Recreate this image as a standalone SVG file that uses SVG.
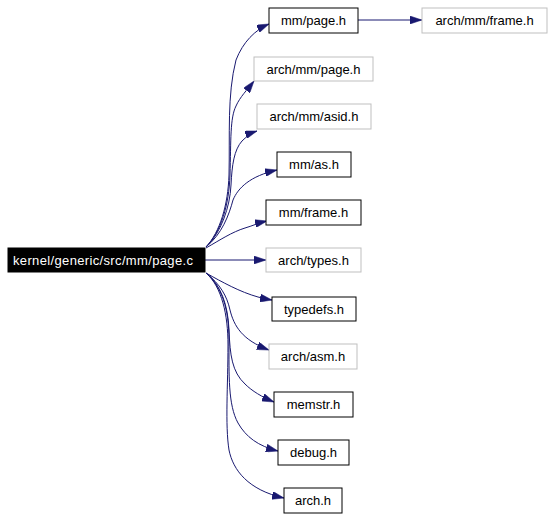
<svg xmlns="http://www.w3.org/2000/svg" width="554" height="519" viewBox="0 0 554 519">
<style>
.n rect{fill:#fff;stroke:#000;stroke-width:1}
.g rect{fill:#fff;stroke:#bfbfbf;stroke-width:1}
text{font-family:"Liberation Sans",Arial,sans-serif;font-size:13px;fill:#000;text-anchor:middle}
#edges path{fill:none;stroke:#191970;stroke-width:1;marker-end:url(#arr)}
</style>
<defs>
<marker id="arr" markerWidth="12" markerHeight="8" refX="12" refY="4" orient="auto" markerUnits="userSpaceOnUse">
<path d="M0,0 L12,4 L0,8 z" fill="#191970" stroke="#191970" stroke-width="0.5"/>
</marker>
</defs>
<rect width="554" height="519" fill="#fff"/>
<g id="edges">
<path d="M206,247 C 220,232 228,205 229,175 C 230,135 227,95 236,60 C 243,42 255,30 269,24"/>
<path d="M358,20 L422,20"/>
<path d="M206,247 C 221,232 229,205 230,175 C 231,140 230,118 236,106 C 240,97 247,90 254,81"/>
<path d="M206,247 C 221,233 230,207 231,185 C 232,165 234,150 242,141 C 246,137 251,133 257,131"/>
<path d="M206,247 C 222,234 229,215 233,200 C 238,188 250,176 277,170"/>
<path d="M206,248 C 220,240 232,232 245,228 C 252,226 258,223 267,221"/>
<path d="M205,260 L266,260"/>
<path d="M206,273 C 222,282 240,292 258,297 C 262,298 266,299 272,300"/>
<path d="M206,273 C 220,284 227,296 230,310 C 234,326 242,340 269,350"/>
<path d="M206,273 C 221,285 228,305 229,330 C 230,355 232,372 245,384 C 252,391 262,397 274,402"/>
<path d="M206,273 C 222,286 229,310 229,340 C 229,375 228,405 238,423 C 246,437 258,446 278,451"/>
<path d="M206,273 C 222,287 228,315 228,345 C 228,385 225,425 229,450 C 233,470 248,490 284,498"/>
</g>
<g id="main">
<rect x="8" y="248" width="197" height="24" fill="#000" stroke="#000"/>
<text x="13" y="264.5" style="fill:#fff;text-anchor:start" textLength="180" lengthAdjust="spacing">kernel/generic/src/mm/page.c</text>
</g>
<g id="mm_page_h" class="n"><rect x="269" y="8" width="89" height="25"/><text x="313.5" y="25">mm/page.h</text></g>
<g id="arch_mm_frame_h" class="g"><rect x="422" y="8" width="125" height="25"/><text x="484.5" y="25">arch/mm/frame.h</text></g>
<g id="arch_mm_page_h" class="g"><rect x="254" y="57" width="119" height="24"/><text x="313.5" y="73.5">arch/mm/page.h</text></g>
<g id="arch_mm_asid_h" class="g"><rect x="257" y="104" width="114" height="25"/><text x="314" y="121">arch/mm/asid.h</text></g>
<g id="mm_as_h" class="n"><rect x="277" y="152" width="74" height="25"/><text x="314" y="169">mm/as.h</text></g>
<g id="mm_frame_h" class="n"><rect x="266" y="200" width="95" height="25"/><text x="313.5" y="217">mm/frame.h</text></g>
<g id="arch_types_h" class="g"><rect x="266" y="248" width="95" height="24"/><text x="313.5" y="264.5">arch/types.h</text></g>
<g id="typedefs_h" class="n"><rect x="272" y="297" width="84" height="24"/><text x="314" y="313.5">typedefs.h</text></g>
<g id="arch_asm_h" class="g"><rect x="269" y="344" width="88" height="25"/><text x="313" y="361">arch/asm.h</text></g>
<g id="memstr_h" class="n"><rect x="274" y="392" width="79" height="25"/><text x="313.5" y="409">memstr.h</text></g>
<g id="debug_h" class="n"><rect x="278" y="440" width="71" height="25"/><text x="313.5" y="457">debug.h</text></g>
<g id="arch_h" class="n"><rect x="284" y="488" width="58" height="25"/><text x="313" y="505">arch.h</text></g>
</svg>
